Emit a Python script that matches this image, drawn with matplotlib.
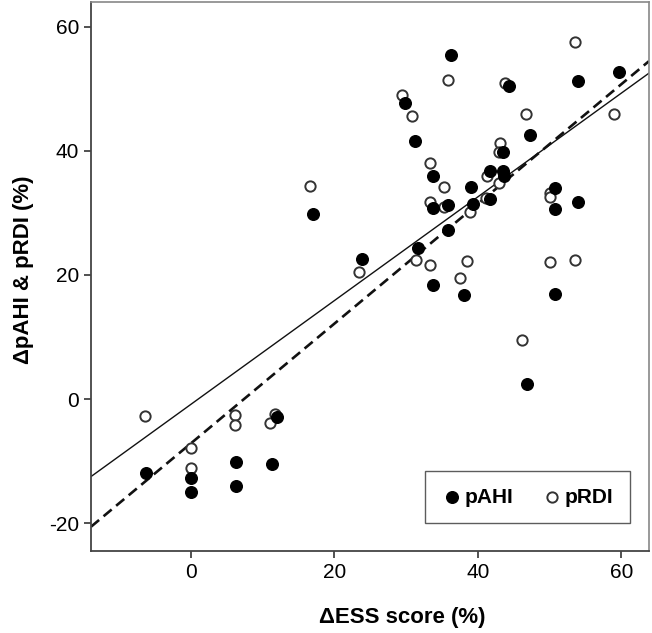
import numpy as np
import matplotlib
matplotlib.use('Agg')
import matplotlib.pyplot as plt

# pAHI change (filled) vs ESS change
ahi_x = [-6.2, 0.0, 0.0, 6.4, 6.4, 11.3, 12.0, 17.0, 23.9, 36.2, 29.9, 44.4,
         54.0, 59.6, 31.3, 47.3, 43.5, 33.8, 41.7, 43.5, 43.6, 39.0, 50.7, 33.8,
         35.8, 39.4, 41.7, 50.7, 54.0, 35.9, 31.7, 33.8, 38.1, 50.7, 46.8]
ahi_y = [-12.0, -12.7, -15.0, -10.1, -14.1, -10.5, -2.9, 29.9, 22.5, 55.4, 47.7, 50.4,
         51.3, 52.7, 41.6, 42.6, 39.9, 35.9, 36.8, 36.8, 35.9, 34.1, 34.0, 30.8,
         31.2, 31.5, 32.2, 30.7, 31.7, 27.2, 24.3, 18.4, 16.8, 17.0, 2.5]

# pRDI change (open) vs ESS change
rdi_x = [-6.3, 0.0, 0.0, 6.2, 6.2, 11.1, 11.8, 16.6, 23.5, 53.5, 35.8, 43.8,
         29.4, 30.8, 46.7, 58.9, 43.1, 43.0, 33.4, 41.3, 35.3, 43.0, 50.0, 50.1,
         33.4, 35.3, 41.2, 38.9, 31.4, 33.4, 38.5, 37.5, 50.1, 53.5, 46.2]
rdi_y = [-2.7, -7.9, -11.2, -2.6, -4.2, -3.8, -2.4, 34.4, 20.4, 57.5, 51.5, 51.0,
         49.0, 45.6, 46.0, 46.0, 41.2, 39.9, 38.1, 35.9, 34.1, 34.8, 33.2, 32.5,
         31.8, 30.9, 32.4, 30.1, 22.4, 21.6, 22.3, 19.5, 22.1, 22.4, 9.5]

# fitted lines (intercept, slope)
fit_ahi = (-7.2, 0.966)
fit_rdi = (-0.9, 0.837)

x_ticks = [0, 20, 40, 60]
y_ticks = [-20, 0, 20, 40, 60]
xlim = (-13.86, 63.84)
ylim = (-24.5, 64.0)

plt.rcParams['font.family'] = ['Liberation Sans', 'DejaVu Sans']
plt.rcParams['axes.unicode_minus'] = False

fig = plt.figure(figsize=(6.52, 6.33), dpi=100)
ax = fig.add_axes([91 / 652, 1 - 551 / 633, (649 - 91) / 652, (551 - 2) / 633])

xs = np.array(xlim)
ax.plot(xs, fit_rdi[0] + fit_rdi[1] * xs, color='#111111', lw=1.0, zorder=2)
ax.plot(xs, fit_ahi[0] + fit_ahi[1] * xs, color='#111111', lw=1.9,
        dashes=(4, 2.2), zorder=2)

ax.scatter(rdi_x, rdi_y, s=55, facecolor='white', edgecolor='#333333',
           linewidth=1.4, zorder=3, label='pRDI')
ax.scatter(ahi_x, ahi_y, s=70, color='black', edgecolor='black', zorder=4,
           label='pAHI')

ax.set_xlim(*xlim)
ax.set_ylim(*ylim)
ax.set_xticks(x_ticks)
ax.set_yticks(y_ticks)
ax.tick_params(direction='out', length=5, width=1.2, labelsize=15, color='#333333')

for side in ['left', 'bottom']:
    ax.spines[side].set_color('#444444')
    ax.spines[side].set_linewidth(1.3)
for side in ['top', 'right']:
    ax.spines[side].set_color('#888888')
    ax.spines[side].set_linewidth(1.2)

ax.set_xlabel('\u0394ESS score (%)', fontsize=16, fontweight='bold')
ax.set_ylabel('\u0394pAHI & pRDI (%)', fontsize=16, fontweight='bold')
ax.xaxis.set_label_coords(0.557, -0.102)
ax.yaxis.set_label_coords(-0.102, 0.512)

handles, labels = ax.get_legend_handles_labels()
leg = ax.legend(handles[::-1], labels[::-1], ncol=2, loc='center',
                bbox_to_anchor=(0.782, 0.098), frameon=True, fancybox=False,
                handletextpad=0.1, columnspacing=1.4, borderpad=0.8,
                handlelength=1.0, prop={'weight': 'bold', 'size': 15})
leg.get_frame().set_edgecolor('#333333')
leg.get_frame().set_linewidth(1.0)

fig.savefig('out.png', dpi=100)
